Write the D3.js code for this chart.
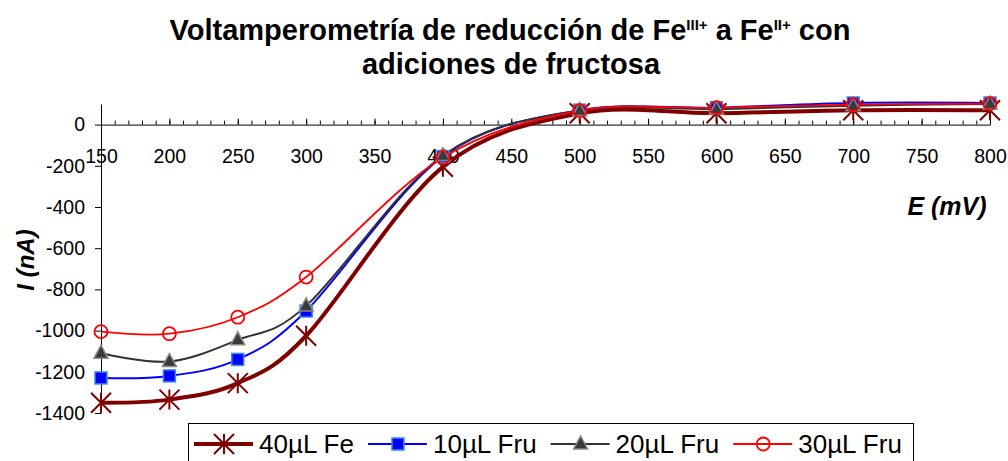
<!DOCTYPE html>
<html>
<head>
<meta charset="utf-8">
<script src="https://cdn.jsdelivr.net/npm/d3@7"></script>
<style>
  html, body { margin: 0; padding: 0; background: #fff; }
  svg { display: block; font-family: "Liberation Sans", Arial, sans-serif; }
</style>
</head>
<body>
<svg id="chart" width="1008" height="461"></svg>
<script>
// Potential steps (mV)
const potentials = [150, 200, 250, 300, 400, 500, 600, 700, 800];
// Current (nA) for each addition
const fe40  = [-1350, -1335, -1255, -1025, -205, 55, 55, 70, 70];
const fru10 = [-1230, -1220, -1140, -905, -155, 70, 82, 105, 105];
const fru20 = [-1110, -1150, -1045, -880, -150, 68, 75, 92, 100];
const fru30 = [-1005, -1015, -935, -740, -160, 68, 82, 97, 102];
const seriesNames = ["40µL Fe", "10µL Fru", "20µL Fru", "30µL Fru"];
const xTicks = [150, 200, 250, 300, 350, 400, 450, 500, 550, 600, 650, 700, 750, 800];
const yTicks = [-1400, -1200, -1000, -800, -600, -400, -200, 0];

const series = [
  { name: seriesNames[0], values: fe40,  color: "#800000", width: 4,   marker: "star" },
  { name: seriesNames[1], values: fru10, color: "#0000ff", width: 2,   marker: "square" },
  { name: seriesNames[2], values: fru20, color: "#333333", width: 2,   marker: "triangle" },
  { name: seriesNames[3], values: fru30, color: "#ff0000", width: 1.8, marker: "circle" }
];

const svg = d3.select("#chart");
const x = d3.scaleLinear().domain([150, 800]).range([101, 990]);
const y = d3.scaleLinear().domain([-1400, 100]).range([413, 104]);

// Title with superscript oxidation states
const title = svg.append("text")
  .attr("x", 510).attr("y", 40)
  .attr("text-anchor", "middle")
  .style("font-weight", "bold").style("font-size", "29px");
title.append("tspan").text("Voltamperometría de reducción de Fe");
title.append("tspan").attr("dy", -10).style("font-size", "15px").text("III+");
title.append("tspan").attr("dy", 10).text(" a Fe");
title.append("tspan").attr("dy", -10).style("font-size", "15px").text("II+");
title.append("tspan").attr("dy", 10).text(" con");
svg.append("text")
  .attr("x", 511).attr("y", 74)
  .attr("text-anchor", "middle")
  .style("font-weight", "bold").style("font-size", "29px")
  .text("adiciones de fructosa");

// X axis on the zero line: minor ticks every 10 mV, major every 50 mV
const zeroY = y(0);
svg.append("g")
  .attr("transform", `translate(0,${zeroY})`)
  .call(d3.axisBottom(x).tickValues(d3.range(150, 801, 10)).tickSizeInner(-4).tickSizeOuter(0).tickFormat(""))
  .call(g => g.select(".domain").remove())
  .call(g => g.selectAll("line").attr("stroke", "#000"));
const xAxis = svg.append("g")
  .attr("transform", `translate(0,${zeroY})`)
  .call(d3.axisBottom(x).tickValues(xTicks).tickSizeInner(-6).tickSizeOuter(0).tickPadding(25).tickFormat(d3.format("d")));
xAxis.selectAll("text").style("font-size", "19.5px").attr("fill", "#000")
  .style("font-family", "'Liberation Sans', Arial, sans-serif");
xAxis.selectAll("line, path").attr("stroke", "#000");

// Y axis
const yAxis = svg.append("g")
  .attr("transform", `translate(${x(150)},0)`)
  .call(d3.axisLeft(y).tickValues(yTicks).tickSizeInner(6).tickSizeOuter(0).tickPadding(10).tickFormat(d3.format("d")));
yAxis.selectAll("text").style("font-size", "19.5px").attr("fill", "#000")
  .style("font-family", "'Liberation Sans', Arial, sans-serif")
  .text(d => d < 0 ? "-" + Math.abs(d) : d);
yAxis.selectAll("line, path").attr("stroke", "#000");

// Axis titles
svg.append("text")
  .attr("x", 947).attr("y", 215)
  .attr("text-anchor", "middle")
  .style("font-weight", "bold").style("font-style", "italic").style("font-size", "25px")
  .text("E (mV)");
svg.append("text")
  .attr("transform", "translate(34,260) rotate(-90)")
  .attr("text-anchor", "middle")
  .style("font-weight", "bold").style("font-style", "italic").style("font-size", "24px")
  .text("I (nA)");

// Marker drawing
function drawMarker(g, type, color) {
  if (type === "star") {
    const r = 10;
    g.append("path")
      .attr("d", `M${-r},${-r}L${r},${r}M${-r},${r}L${r},${-r}M0,${-r}L0,${r}`)
      .attr("stroke", color).attr("stroke-width", 2).attr("fill", "none");
  } else if (type === "square") {
    g.append("rect").attr("x", -6).attr("y", -6).attr("width", 12).attr("height", 12)
      .attr("fill", "#0000ff").attr("stroke", "#3a8ee6").attr("stroke-width", 1.5);
  } else if (type === "triangle") {
    g.append("path").attr("d", "M0,-8L7,5L-7,5Z")
      .attr("fill", "#3a3a3a").attr("stroke", "#888").attr("stroke-width", 1.5);
  } else if (type === "circle") {
    g.append("circle").attr("r", 6.5)
      .attr("fill", "none").attr("stroke", color).attr("stroke-width", 1.8);
  }
}

// Smoothed series lines
const line = d3.line()
  .x((d, i) => x(potentials[i]))
  .y(d => y(d))
  .curve(d3.curveCatmullRom.alpha(0));

series.forEach(s => {
  svg.append("path")
    .attr("d", line(s.values))
    .attr("fill", "none")
    .attr("stroke", s.color)
    .attr("stroke-width", s.width)
    .attr("stroke-linejoin", "round");
});
series.forEach(s => {
  s.values.forEach((v, i) => {
    const g = svg.append("g").attr("transform", `translate(${x(potentials[i])},${y(v)})`);
    drawMarker(g, s.marker, s.color);
  });
});

// Legend
const legend = svg.append("g");
legend.append("rect")
  .attr("x", 188.5).attr("y", 423.5).attr("width", 725).attr("height", 50)
  .attr("fill", "#fff").attr("stroke", "#000").attr("stroke-width", 1);
let lx = 194;
const ly = 444;
series.forEach(s => {
  legend.append("line")
    .attr("x1", lx).attr("x2", lx + 59).attr("y1", ly).attr("y2", ly)
    .attr("stroke", s.color).attr("stroke-width", s.width);
  drawMarker(legend.append("g").attr("transform", `translate(${lx + 30},${ly})`), s.marker, s.color);
  const t = legend.append("text")
    .attr("x", lx + 65).attr("y", ly + 9)
    .style("font-size", "26px")
    .text(s.name);
  lx += 65 + t.node().getComputedTextLength() + 14;
});
</script>
</body>
</html>
